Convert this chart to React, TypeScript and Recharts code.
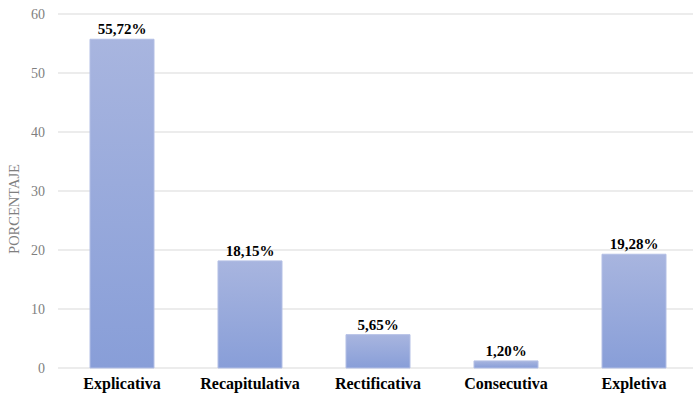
import React from 'react';
import { BarChart, Bar, XAxis, YAxis, CartesianGrid, LabelList } from 'recharts';

// Categories and their percentages
const categories = ['Explicativa', 'Recapitulativa', 'Rectificativa', 'Consecutiva', 'Expletiva'];
const percentages = [55.72, 18.15, 5.65, 1.2, 19.28];
const yTicks = [0, 10, 20, 30, 40, 50, 60];
const yAxisTitle = 'PORCENTAJE';

const data = categories.map((name, i) => ({ name, value: percentages[i] }));

const SERIF = '"Liberation Serif", "Times New Roman", Times, serif';

const formatPct = (v: number) => v.toFixed(2).replace('.', ',') + '%';

export default function App() {
  return (
    <div
      style={{
        position: 'absolute',
        left: 0,
        top: 0,
        width: 693,
        height: 399,
        overflow: 'hidden',
        background: '#ffffff',
      }}
    >
      <BarChart
        width={700}
        height={399}
        data={data}
        margin={{ top: 14, right: 2, bottom: 0, left: 0 }}
        barCategoryGap="25%"
      >
        <defs>
          <linearGradient id="barFill" x1="0" y1="0" x2="0" y2="1">
            <stop offset="0%" stopColor="#a8b5df" />
            <stop offset="100%" stopColor="#889ed8" />
          </linearGradient>
        </defs>
        <CartesianGrid vertical={false} stroke="#d9d9d9" strokeWidth={1} />
        <XAxis
          dataKey="name"
          axisLine={false}
          tickLine={false}
          tickSize={0}
          tickMargin={10}
          height={31}
          interval={0}
          tick={{ fontFamily: SERIF, fontSize: 16, fontWeight: 'bold', fill: '#000000' }}
        />
        <YAxis
          domain={[0, 60]}
          ticks={yTicks}
          axisLine={false}
          tickLine={false}
          tickSize={0}
          tickMargin={13}
          width={58}
          tick={{ fontFamily: SERIF, fontSize: 14, fill: '#7f7f7f' }}
        />
        <Bar
          dataKey="value"
          fill="url(#barFill)"
          stroke="#b3bfe5"
          strokeWidth={1}
          isAnimationActive={false}
        >
          <LabelList
            dataKey="value"
            position="top"
            offset={5}
            formatter={(v: any) => formatPct(Number(v))}
            style={{ fontFamily: SERIF, fontSize: 15, fontWeight: 'bold', fill: '#000000' }}
          />
        </Bar>
      </BarChart>
      {/* Vertical axis title */}
      <svg
        width={30}
        height={399}
        style={{ position: 'absolute', left: 0, top: 0, pointerEvents: 'none' }}
      >
        <text
          x={14}
          y={209}
          transform="rotate(-90, 14, 209)"
          textAnchor="middle"
          dominantBaseline="central"
          fontFamily={SERIF}
          fontSize={14.5}
          fill="#7f7f7f"
        >
          {yAxisTitle}
        </text>
      </svg>
    </div>
  );
}
